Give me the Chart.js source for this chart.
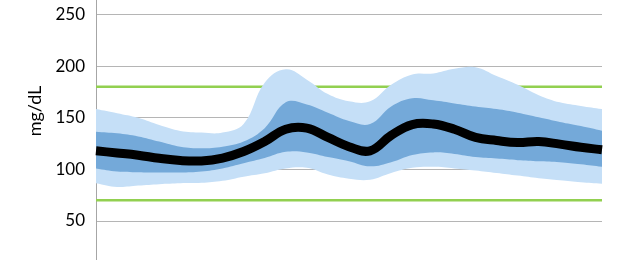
<!DOCTYPE html>
<html lang="en">
<head>
    <meta charset="UTF-8">
    <title>Glucose profile</title>
    <script src="https://cdn.jsdelivr.net/npm/chart.js"></script>
    <style>
        body { margin: 0; background: #fff; }
        #wrap { width: 627px; height: 260px; position: relative; }
    </style>
</head>
<body>
    <div id="wrap"><canvas id="agpChart"></canvas></div>

    <script>
        // hourly readings, 00:00 .. 24:00
        const hours = ['00','01','02','03','04','05','06','07','08','09','10','11','12',
                       '13','14','15','16','17','18','19','20','21','22','23','24'];
        const median = [118, 116, 113.8, 110.8, 108.6, 108.2, 111, 117.3, 127, 139, 140, 131, 122,
                        118, 133, 143.5, 144, 139, 131, 128, 126, 127, 124.5, 121.5, 119];
        const p75 = [136.6, 135, 132, 127, 122, 120.5, 122, 127, 140, 165, 163, 155, 147,
                     144, 161, 169, 167, 164, 161, 158.5, 155, 150.5, 146, 142, 137.5];
        const p25 = [101, 98, 97.3, 97, 97, 98, 101, 106, 111, 117, 116.5, 112, 108,
                     103, 107, 114, 116.5, 115, 112, 110.5, 109, 108, 107, 105, 102.5];
        const p90 = [158.6, 154.5, 150, 143, 137.3, 135.7, 135.7, 144, 184, 197, 187, 173, 166,
                     166, 182, 192, 193, 197.5, 199, 190.5, 182, 172, 165, 161.5, 158.5];
        const p10 = [86.6, 83, 84.3, 85.7, 86.6, 87, 89, 93, 96.3, 101, 101.5, 95, 91,
                     90, 96.5, 101.5, 102.5, 101, 99, 96.5, 94, 91.5, 89.5, 87.5, 86];
        const targetHigh = 180;
        const targetLow = 70;
        const yTicks = [50, 100, 150, 200, 250];

        const lightBlue = '#c5dff7';
        const darkBlue = '#74a9d9';
        const green = '#92d050';

        // y axis title, placed like the original
        const axisTitle = {
            id: 'axisTitle',
            afterDraw(chart) {
                const c = chart.ctx;
                c.save();
                c.translate(35, 111);
                c.rotate(-Math.PI / 2);
                c.font = '18px Lato';
                c.fillStyle = '#000';
                c.textAlign = 'center';
                c.textBaseline = 'middle';
                c.fillText('mg/dL', 0, 0);
                c.restore();
            }
        };

        const band = (data, color, fill) => ({
            data: data,
            borderWidth: 0,
            pointRadius: 0,
            tension: 0.4,
            backgroundColor: color,
            fill: fill
        });

        new Chart(document.getElementById('agpChart'), {
            type: 'line',
            data: {
                labels: hours,
                datasets: [
                    {
                        data: median,
                        borderColor: '#000',
                        borderWidth: 9,
                        pointRadius: 0,
                        tension: 0.4,
                        fill: false
                    },
                    band(p75, darkBlue, '+1'),
                    band(p25, darkBlue, false),
                    band(p90, lightBlue, '+1'),
                    band(p10, lightBlue, false),
                    {
                        data: hours.map(() => targetHigh),
                        borderColor: green,
                        borderWidth: 2.5,
                        pointRadius: 0,
                        fill: false
                    },
                    {
                        data: hours.map(() => targetLow),
                        borderColor: green,
                        borderWidth: 2.5,
                        pointRadius: 0,
                        fill: false
                    }
                ]
            },
            options: {
                responsive: true,
                maintainAspectRatio: false,
                animation: false,
                layout: { padding: { left: 0, right: 25, top: 0, bottom: 0 } },
                plugins: {
                    legend: { display: false },
                    tooltip: { enabled: false }
                },
                scales: {
                    x: { display: false },
                    y: {
                        min: 12.2,
                        max: 264.2,
                        z: 1,
                        afterBuildTicks: (axis) => {
                            axis.ticks = yTicks.map(v => ({ value: v }));
                        },
                        afterFit: (axis) => {
                            axis.width = 96;
                            axis.paddingTop = 0;
                            axis.paddingBottom = 0;
                        },
                        border: { color: '#a6a6a6', width: 1 },
                        grid: { color: 'rgba(120,120,120,0.55)', drawTicks: false },
                        ticks: {
                            padding: 11,
                            color: '#000',
                            font: { family: 'Lato', size: 17 }
                        }
                    }
                }
            },
            plugins: [axisTitle]
        });
    </script>
</body>
</html>
